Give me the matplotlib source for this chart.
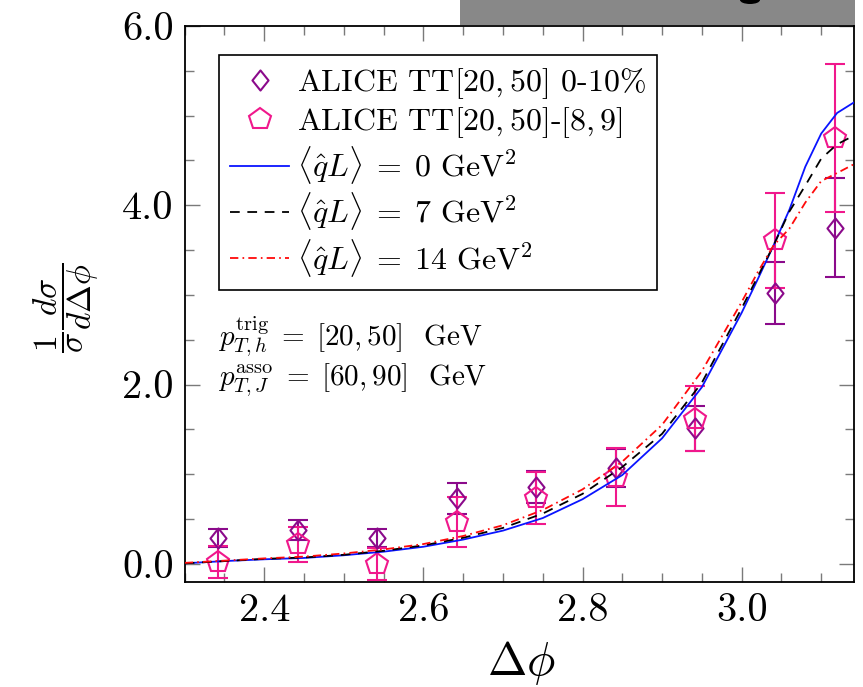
import numpy as np
import matplotlib
matplotlib.use("Agg")
import matplotlib.pyplot as plt
from matplotlib.patches import Rectangle, Ellipse
from matplotlib.path import Path

plt.rcParams['font.family'] = 'cmr10'
plt.rcParams['mathtext.fontset'] = 'cm'
plt.rcParams['axes.formatter.use_mathtext'] = True
plt.rcParams['lines.scale_dashes'] = False

# ---- data ----
x_data = [2.342, 2.442, 2.542, 2.642, 2.742, 2.842, 2.942, 3.042, 3.117]
y_central = [0.29, 0.38, 0.29, 0.73, 0.86, 1.07, 1.51, 3.02, 3.75]
err_central = [0.10, 0.11, 0.10, 0.175, 0.18, 0.21, 0.25, 0.35, 0.55]
y_diff = [0.02, 0.22, 0.00, 0.47, 0.73, 0.97, 1.62, 3.61, 4.75]
err_diff = [0.18, 0.195, 0.18, 0.28, 0.29, 0.32, 0.36, 0.53, 0.83]

x_curve = [2.30, 2.35, 2.40, 2.45, 2.50, 2.55, 2.60, 2.65, 2.70, 2.75, 2.80,
           2.85, 2.90, 2.95, 3.00, 3.02, 3.04, 3.06, 3.08, 3.10, 3.12, 3.1416]
y_q0 = [0.005, 0.03, 0.05, 0.065, 0.095, 0.135, 0.19, 0.27, 0.37, 0.51, 0.72,
        0.99, 1.40, 1.97, 2.80, 3.17, 3.55, 3.95, 4.43, 4.80, 5.03, 5.15]
y_q7 = [0.005, 0.03, 0.055, 0.07, 0.10, 0.145, 0.205, 0.29, 0.40, 0.56, 0.78,
        1.08, 1.45, 2.02, 2.85, 3.20, 3.55, 3.93, 4.22, 4.52, 4.68, 4.78]
y_q14 = [0.01, 0.035, 0.06, 0.08, 0.115, 0.16, 0.22, 0.31, 0.43, 0.60, 0.83,
         1.14, 1.55, 2.15, 2.92, 3.25, 3.55, 3.74, 4.03, 4.27, 4.36, 4.46]

label_central = r'ALICE TT$[20,50]$ 0-10%'
label_diff = r'ALICE TT$[20,50]$-$[8,9]$'
label_q0 = r'$\langle\hat{q}L\rangle\;=\;0\ \mathrm{GeV}^2$'
label_q7 = r'$\langle\hat{q}L\rangle\;=\;7\ \mathrm{GeV}^2$'
label_q14 = r'$\langle\hat{q}L\rangle\;=\;14\ \mathrm{GeV}^2$'

xticks = [2.4, 2.6, 2.8, 3.0]
xticklabels = ['2.4', '2.6', '2.8', '3.0']
yticks = [0.0, 2.0, 4.0, 6.0]
yticklabels = ['0.0', '2.0', '4.0', '6.0']

c_central = '#8B0A8B'
c_diff = '#F0188C'

W, H = 863, 687
fig = plt.figure(figsize=(W / 100, H / 100), dpi=100)
L, R, T, B = 184.7, 854.3, 26.0, 581.7
ax = fig.add_axes([L / W, 1 - B / H, (R - L) / W, (B - T) / H])

diamond = Path([(0, 1), (0.8, 0), (0, -1), (-0.8, 0), (0, 1)], closed=True)

ax.errorbar(x_data, y_central, yerr=err_central, fmt='none', ecolor=c_central,
            elinewidth=1.5, capsize=7.5, capthick=1.5, zorder=2)
ax.errorbar(x_data, y_diff, yerr=err_diff, fmt='none', ecolor=c_diff,
            elinewidth=1.5, capsize=7.5, capthick=1.5, zorder=2)
h1, = ax.plot(x_data, y_central, ls='none', marker=diamond, ms=14.5, mfc='none',
              mec=c_central, mew=1.5, zorder=3, label=label_central)
h2, = ax.plot(x_data, y_diff, ls='none', marker='p', ms=16, mfc='none',
              mec=c_diff, mew=1.5, zorder=3, label=label_diff)

h3, = ax.plot(x_curve, y_q0, color='#0A14FF', lw=1.3, zorder=4, label=label_q0)
h4, = ax.plot(x_curve, y_q7, color='black', lw=1.3, ls=(0, (7, 5.5)), zorder=4,
              label=label_q7)
h5, = ax.plot(x_curve, y_q14, color='#FF0A0A', lw=1.3, ls=(0, (6, 3, 1.2, 3)),
              zorder=4, label=label_q14)

ax.set_xlim(2.3, np.pi)
ax.set_ylim(-0.2, 6.0)
ax.set_xticks(xticks)
ax.set_xticklabels(xticklabels)
ax.set_yticks(yticks)
ax.set_yticklabels(yticklabels)
ax.set_xticks(np.arange(2.3, 3.15, 0.05), minor=True)
ax.set_yticks(np.arange(-0.0, 6.01, 0.5), minor=True)
ax.tick_params(which='both', direction='in', top=True, right=True,
               color='#7a7a7a', width=1.0, labelsize=29, pad=8)
ax.tick_params(which='major', length=10.6)
ax.tick_params(which='minor', length=6.5)
for s in ax.spines.values():
    s.set_linewidth(1.3)

leg = ax.legend(handles=[h1, h2, h3, h4, h5], loc='upper left',
                bbox_to_anchor=(219 / W, 1 - 55 / H), bbox_transform=fig.transFigure,
                borderaxespad=0, fontsize=23, frameon=True, fancybox=False,
                edgecolor='black', framealpha=1, handlelength=1.85,
                handletextpad=0.25, labelspacing=0.13, borderpad=0.35,
                numpoints=1)
leg.get_frame().set_linewidth(1.2)

fig.text(218 / W, 1 - 346 / H, r'$p_{T,h}^{\mathrm{trig}}\;=\;[20,50]$  GeV',
         fontsize=21, ha='left', va='baseline')
fig.text(218 / W, 1 - 386 / H, r'$p_{T,J}^{\mathrm{asso}}\;=\;[60,90]$  GeV',
         fontsize=21, ha='left', va='baseline')

fig.text(66 / W, 1 - 308 / H, r'$\dfrac{1}{\sigma}\dfrac{d\sigma}{d\Delta\phi}$',
         fontsize=24, rotation=90, ha='center', va='center')
fig.text(521 / W, 1 - 675 / H, r'$\Delta\phi$', fontsize=34, ha='center',
         va='baseline')

# gray obstruction at the top
fig.patches.append(Rectangle((460 / W, 1 - 25 / H), (855 - 460) / W, 25 / H,
                             transform=fig.transFigure, facecolor='#888888',
                             edgecolor='none', zorder=10))
fig.patches.append(Ellipse((750 / W, 1.0), 20 / W, 8 / H,
                           transform=fig.transFigure, facecolor='black',
                           edgecolor='none', zorder=11))

fig.savefig('out.png', dpi=100)
